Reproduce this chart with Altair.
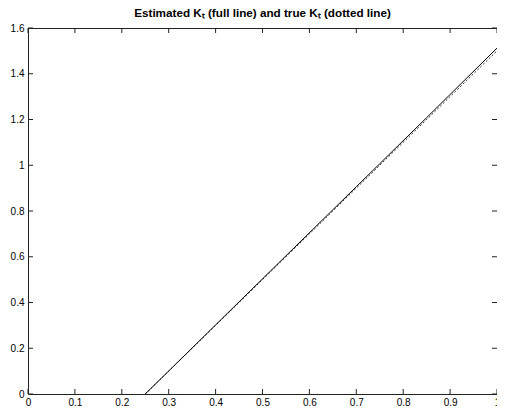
import altair as alt
import pandas as pd

# Estimated K_t (full line)
est_x = [0.25, 0.40, 0.55, 0.70, 0.85, 1.00]
est_y = [0.0, 0.302, 0.604, 0.906, 1.208, 1.512]
# True K_t (dotted line)
true_x = [0.25, 1.00]
true_y = [0.0, 1.50]

x_ticks = [0, 0.1, 0.2, 0.3, 0.4, 0.5, 0.6, 0.7, 0.8, 0.9, 1.0]
y_ticks = [0, 0.2, 0.4, 0.6, 0.8, 1.0, 1.2, 1.4, 1.6]

W, H = 469, 366
FONT = "Liberation Sans"

est_df = pd.DataFrame({"x": est_x, "y": est_y})
true_df = pd.DataFrame({"x": true_x, "y": true_y})
xt_df = pd.DataFrame({"x": x_ticks})
yt_df = pd.DataFrame({"y": y_ticks})

xscale = alt.Scale(domain=[0, 1], nice=False, zero=False)
yscale = alt.Scale(domain=[0, 1.6], nice=False, zero=False)

xaxis = alt.Axis(values=x_ticks, tickSize=0, domain=False, grid=False, format="~g",
                 labelPadding=3, labelFont=FONT, labelFontSize=10, labelColor="#000",
                 title=None, labelFlush=False, labelOverlap=False)
yaxis = alt.Axis(values=y_ticks, tickSize=0, domain=False, grid=False, format="~g",
                 labelPadding=4, labelFont=FONT, labelFontSize=10, labelColor="#000",
                 title=None, labelFlush=False, labelOverlap=False)

X = alt.X("x:Q", scale=xscale, axis=xaxis)
Y = alt.Y("y:Q", scale=yscale, axis=yaxis)

true_line = alt.Chart(true_df).mark_line(color="#333", strokeWidth=1, strokeDash=[2, 2]).encode(x=X, y=Y)
est_line = alt.Chart(est_df).mark_line(color="#000", strokeWidth=1).encode(x=X, y=Y)

tick_color = "#222"
bottom_ticks = alt.Chart(xt_df).mark_rule(color=tick_color, strokeWidth=1).encode(
    x=X, y=alt.value(H), y2=alt.value(H - 5))
top_ticks = alt.Chart(xt_df).mark_rule(color=tick_color, strokeWidth=1).encode(
    x=X, y=alt.value(0), y2=alt.value(5))
left_ticks = alt.Chart(yt_df).mark_rule(color=tick_color, strokeWidth=1).encode(
    y=Y, x=alt.value(0), x2=alt.value(5))
right_ticks = alt.Chart(yt_df).mark_rule(color=tick_color, strokeWidth=1).encode(
    y=Y, x=alt.value(W), x2=alt.value(W - 5))

chart = alt.layer(
    true_line, est_line, bottom_ticks, top_ticks, left_ticks, right_ticks
).properties(
    width=W,
    height=H,
    background="white",
    title=alt.TitleParams(
        "Estimated K\u209c (full line) and true K\u209c (dotted line)",
        font=FONT, fontSize=11.7, fontWeight="bold", color="#000",
        anchor="middle", offset=3,
    ),
    autosize=alt.AutoSizeParams(type="none"),
    padding={"left": 20, "top": 20, "right": 0, "bottom": 14},
).configure_view(
    stroke="#222", strokeWidth=1
)

chart.save("out.html", embed_options={"renderer": "svg", "actions": False})
